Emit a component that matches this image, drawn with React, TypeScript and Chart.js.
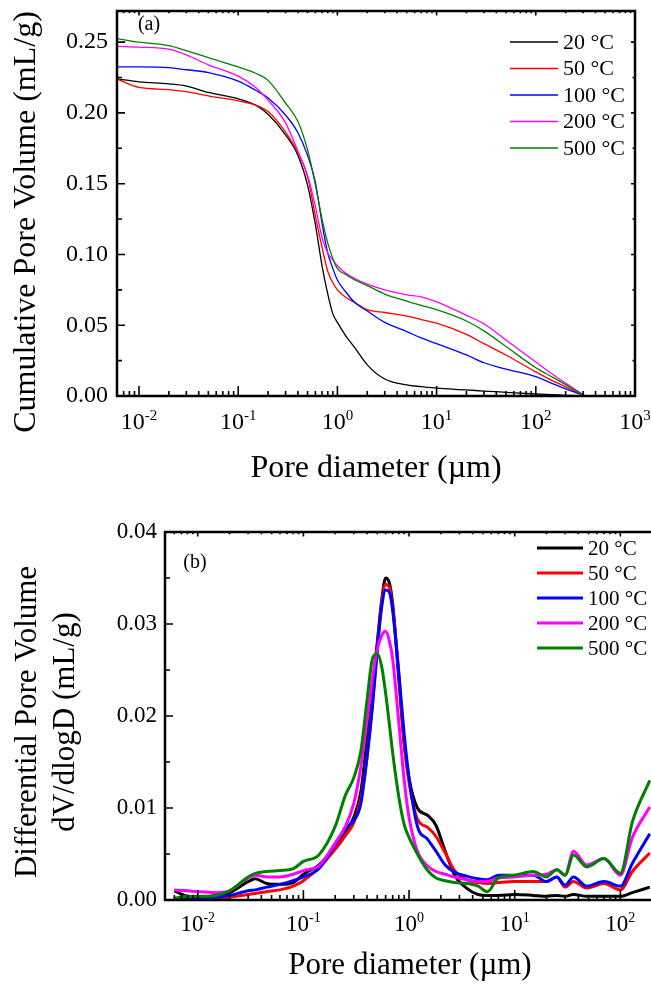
import React, { useEffect, useRef } from 'react';
import { Chart, registerables } from 'chart.js';

Chart.register(...registerables);

const FONT_FAMILY = "'Liberation Serif', 'Times New Roman', Times, serif";

const seriesLabels = ['20 °C', '50 °C', '100 °C', '200 °C', '500 °C'];
const seriesColors = ['#000000', '#ff0000', '#0000ff', '#ff00ff', '#008000'];

// ---------- (a) Cumulative pore volume (mL/g) vs pore diameter (µm)
const diameterA = [0.006, 0.01, 0.02, 0.03, 0.05, 0.1, 0.15, 0.2, 0.3, 0.4, 0.5, 0.6, 0.7, 0.8, 0.9, 1.0, 1.2, 1.5, 2, 3, 5, 7, 10, 20, 30, 50, 100, 150, 200, 316];
const cum20 = [0.224, 0.222, 0.2205, 0.219, 0.2145, 0.210, 0.2055, 0.199, 0.1845, 0.170, 0.149, 0.121, 0.092, 0.072, 0.058, 0.052, 0.043, 0.034, 0.022, 0.012, 0.0078, 0.0066, 0.0055, 0.0043, 0.0035, 0.0026, 0.0014, 0.0009, 0.0005, 0];
const cum50 = [0.224, 0.218, 0.2165, 0.215, 0.212, 0.2085, 0.2055, 0.201, 0.1865, 0.172, 0.155, 0.127, 0.105, 0.088, 0.080, 0.075, 0.070, 0.066, 0.061, 0.059, 0.0565, 0.054, 0.0515, 0.0435, 0.037, 0.029, 0.017, 0.0105, 0.0065, 0];
const cum100 = [0.2325, 0.2325, 0.232, 0.2305, 0.2285, 0.2225, 0.216, 0.2105, 0.1985, 0.186, 0.170, 0.151, 0.122, 0.101, 0.090, 0.082, 0.074, 0.066, 0.060, 0.052, 0.0455, 0.041, 0.037, 0.029, 0.0235, 0.019, 0.0137, 0.0085, 0.005, 0];
const cum200 = [0.247, 0.2465, 0.245, 0.241, 0.234, 0.226, 0.218, 0.209, 0.193, 0.173, 0.156, 0.134, 0.112, 0.101, 0.096, 0.092, 0.087, 0.083, 0.079, 0.075, 0.0715, 0.070, 0.0665, 0.057, 0.051, 0.0395, 0.024, 0.015, 0.009, 0];
const cum500 = [0.2525, 0.250, 0.2475, 0.244, 0.239, 0.2325, 0.228, 0.223, 0.207, 0.194, 0.174, 0.149, 0.125, 0.108, 0.097, 0.090, 0.086, 0.082, 0.078, 0.072, 0.067, 0.064, 0.061, 0.053, 0.046, 0.035, 0.020, 0.013, 0.008, 0];
const yTicksA = [0, 0.05, 0.1, 0.15, 0.2, 0.25];

// ---------- (b) Differential pore volume dV/dlogD (mL/g) vs pore diameter (µm)
const diameterB = [0.006, 0.008, 0.01, 0.015, 0.02, 0.03, 0.035, 0.045, 0.06, 0.08, 0.1, 0.14, 0.2, 0.25, 0.3, 0.35, 0.4, 0.45, 0.5, 0.55, 0.6, 0.65, 0.7, 0.8, 0.9, 1.0, 1.2, 1.5, 1.8, 2.2, 2.7, 3.5, 4.5, 5.5, 7, 10, 15, 20, 25, 30, 36, 48, 70, 100, 130, 190];
const diff20 = [0.0010, 0.0004, 0.0003, 0.0005, 0.0008, 0.0020, 0.0023, 0.0018, 0.0017, 0.0019, 0.0028, 0.0038, 0.0058, 0.0075, 0.0090, 0.0118, 0.0175, 0.0228, 0.0280, 0.0325, 0.0350, 0.0345, 0.0322, 0.0240, 0.0170, 0.0132, 0.0100, 0.0092, 0.0081, 0.0053, 0.0027, 0.0013, 0.0006, 0.0005, 0.0005, 0.0006, 0.0005, 0.0004, 0.0005, 0.0004, 0.0006, 0.0004, 0.0004, 0.0004, 0.0008, 0.0014];
const diff50 = [0.0000, 0.0000, 0.0000, 0.0001, 0.0003, 0.0006, 0.0007, 0.0009, 0.0011, 0.0015, 0.0021, 0.0035, 0.0055, 0.0070, 0.0084, 0.0110, 0.0155, 0.0212, 0.0272, 0.0322, 0.0343, 0.0340, 0.0318, 0.0245, 0.0170, 0.0128, 0.0088, 0.0079, 0.0069, 0.0051, 0.0032, 0.0022, 0.0019, 0.0018, 0.0019, 0.0020, 0.0020, 0.0020, 0.0025, 0.0014, 0.0020, 0.0013, 0.0018, 0.0011, 0.0031, 0.0051];
const diff100 = [0.0001, 0.0001, 0.0002, 0.0003, 0.0005, 0.0010, 0.0011, 0.0014, 0.0017, 0.0021, 0.0025, 0.0034, 0.0060, 0.0078, 0.0086, 0.0105, 0.0155, 0.0210, 0.0272, 0.0318, 0.0337, 0.0335, 0.0315, 0.0247, 0.0180, 0.0133, 0.0080, 0.0066, 0.0053, 0.0038, 0.0030, 0.0026, 0.0023, 0.0022, 0.0027, 0.0027, 0.0027, 0.0020, 0.0025, 0.0016, 0.0025, 0.0015, 0.0020, 0.0015, 0.0040, 0.0072];
const diff200 = [0.0011, 0.0010, 0.0009, 0.0008, 0.0010, 0.0024, 0.0027, 0.0025, 0.0025, 0.0028, 0.0032, 0.0037, 0.0062, 0.0080, 0.0105, 0.0145, 0.0195, 0.0240, 0.0272, 0.0287, 0.0292, 0.0282, 0.0262, 0.0193, 0.0130, 0.0090, 0.0053, 0.0037, 0.0031, 0.0028, 0.0025, 0.0022, 0.0020, 0.0020, 0.0024, 0.0025, 0.0027, 0.0028, 0.0033, 0.0027, 0.0053, 0.0038, 0.0045, 0.0027, 0.0068, 0.0101];
const diff500 = [0.0002, 0.0004, 0.0004, 0.0005, 0.0010, 0.0025, 0.0029, 0.0031, 0.0032, 0.0034, 0.0042, 0.0049, 0.0080, 0.0114, 0.0133, 0.0162, 0.0217, 0.0262, 0.0268, 0.0254, 0.0225, 0.0192, 0.0160, 0.0112, 0.0082, 0.0068, 0.0050, 0.0032, 0.0024, 0.0021, 0.0019, 0.0018, 0.0015, 0.0009, 0.0024, 0.0027, 0.0031, 0.0025, 0.0033, 0.0027, 0.0049, 0.0036, 0.0045, 0.0029, 0.0085, 0.0130];
const yTicksB = [0, 0.01, 0.02, 0.03, 0.04];

type Deco = {
  yStepMinor: number;
  yStepMajor: number;
  axisWidth: number;
  xMajLen: number;
  xMinLen: number;
  yMajLen: number;
  yMinLen: number;
  topTicks: boolean;
  rightAxis: boolean;
  xLabelBaseline: number;
  xLabelSize: number;
  xSupSize: number;
  supRise: number;
  xTitle: string;
  xTitleX: number;
  xTitleBaseline: number;
  xTitleSize: number;
  yTitleLines: string[];
  yTitleBaselines: number[];
  yTitleY: number;
  yTitleSize: number;
  legendX0: number;
  legendX1: number;
  legendTextX: number;
  legendY0: number;
  legendDy: number;
  legendSize: number;
  legendLineWidth: number;
  panel: string;
  panelX: number;
  panelY: number;
  panelSize: number;
};

function decoPlugin(d: Deco) {
  return {
    id: 'deco',
    afterDraw(chart: any) {
      const ctx: CanvasRenderingContext2D = chart.ctx;
      const ca = chart.chartArea;
      const xs = chart.scales.x;
      const ys = chart.scales.y;
      ctx.save();
      ctx.strokeStyle = '#000';
      ctx.fillStyle = '#000';
      ctx.lineCap = 'butt';

      // frame
      ctx.lineWidth = d.axisWidth;
      ctx.beginPath();
      if (d.rightAxis) {
        ctx.rect(ca.left, ca.top, ca.right - ca.left, ca.bottom - ca.top);
      } else {
        ctx.moveTo(ca.right + 3, ca.top);
        ctx.lineTo(ca.left, ca.top);
        ctx.lineTo(ca.left, ca.bottom);
        ctx.lineTo(ca.right + 3, ca.bottom);
      }
      ctx.stroke();

      // x ticks (log)
      ctx.lineWidth = 1.6;
      const lo = Math.floor(Math.log10(xs.min));
      const hi = Math.ceil(Math.log10(xs.max));
      ctx.beginPath();
      for (let n = lo; n <= hi; n++) {
        for (let k = 1; k <= 9; k++) {
          const v = k * Math.pow(10, n);
          if (v < xs.min * 0.999 || v > xs.max * 1.001) continue;
          const px = xs.getPixelForValue(v);
          if (px <= ca.left + 1 || px >= ca.right - 1) continue;
          const len = k === 1 ? d.xMajLen : d.xMinLen;
          ctx.moveTo(px, ca.bottom);
          ctx.lineTo(px, ca.bottom - len);
          if (d.topTicks) {
            ctx.moveTo(px, ca.top);
            ctx.lineTo(px, ca.top + len * 0.45);
          }
        }
      }
      ctx.stroke();

      // y ticks
      ctx.beginPath();
      for (let i = 1; ; i++) {
        const v = i * d.yStepMinor;
        if (v > ys.max + 1e-9) break;
        const py = ys.getPixelForValue(v);
        if (py <= ca.top + 1) continue;
        const r = v / d.yStepMajor;
        const major = Math.abs(r - Math.round(r)) < 1e-6;
        const len = major ? d.yMajLen : d.yMinLen;
        ctx.moveTo(ca.left, py);
        ctx.lineTo(ca.left + len, py);
        if (d.rightAxis) {
          ctx.moveTo(ca.right, py);
          ctx.lineTo(ca.right - len * 0.5, py);
        }
      }
      ctx.stroke();

      // x tick labels 10^n
      ctx.textBaseline = 'alphabetic';
      ctx.textAlign = 'left';
      for (let n = lo; n <= hi; n++) {
        const v = Math.pow(10, n);
        if (v < xs.min * 0.999 || v > xs.max * 1.001) continue;
        const px = xs.getPixelForValue(v);
        const exp = String(n);
        ctx.font = `${d.xLabelSize}px ${FONT_FAMILY}`;
        const w1 = ctx.measureText('10').width;
        ctx.font = `${d.xSupSize}px ${FONT_FAMILY}`;
        const w2 = ctx.measureText(exp).width;
        const x0 = px - (w1 + w2) / 2;
        ctx.font = `${d.xLabelSize}px ${FONT_FAMILY}`;
        ctx.fillText('10', x0, d.xLabelBaseline);
        ctx.font = `${d.xSupSize}px ${FONT_FAMILY}`;
        ctx.fillText(exp, x0 + w1, d.xLabelBaseline - d.supRise);
      }

      // x title
      ctx.font = `${d.xTitleSize}px ${FONT_FAMILY}`;
      ctx.textAlign = 'center';
      ctx.fillText(d.xTitle, d.xTitleX, d.xTitleBaseline);

      // y title (rotated)
      ctx.font = `${d.yTitleSize}px ${FONT_FAMILY}`;
      d.yTitleLines.forEach((line, i) => {
        ctx.save();
        ctx.translate(d.yTitleBaselines[i], d.yTitleY);
        ctx.rotate(-Math.PI / 2);
        ctx.textAlign = 'center';
        ctx.textBaseline = 'alphabetic';
        ctx.fillText(line, 0, 0);
        ctx.restore();
      });

      // legend
      ctx.font = `${d.legendSize}px ${FONT_FAMILY}`;
      ctx.textAlign = 'left';
      ctx.textBaseline = 'middle';
      chart.data.datasets.forEach((ds: any, i: number) => {
        const y = d.legendY0 + i * d.legendDy;
        ctx.strokeStyle = ds.borderColor;
        ctx.lineWidth = d.legendLineWidth;
        ctx.beginPath();
        ctx.moveTo(d.legendX0, y);
        ctx.lineTo(d.legendX1, y);
        ctx.stroke();
        ctx.fillStyle = '#000';
        ctx.fillText(ds.label, d.legendTextX, y + 1);
      });

      // panel label
      ctx.font = `${d.panelSize}px ${FONT_FAMILY}`;
      ctx.textAlign = 'center';
      ctx.textBaseline = 'middle';
      ctx.fillText(d.panel, d.panelX, d.panelY);
      ctx.restore();
    },
  };
}

function buildChart(
  canvas: HTMLCanvasElement,
  xs: number[],
  series: number[][],
  lineWidth: number,
  xMin: number,
  xMax: number,
  yMax: number,
  yTicks: number[],
  yFont: number,
  yPad: number,
  yWidth: number,
  xHeight: number,
  padTop: number,
  padRight: number,
  deco: Deco
) {
  return new Chart(canvas, {
    type: 'line',
    data: {
      datasets: seriesLabels.map((label, i) => ({
        label,
        data: xs.map((x, j) => ({ x, y: series[i][j] })),
        borderColor: seriesColors[i],
        backgroundColor: seriesColors[i],
        borderWidth: lineWidth,
        pointRadius: 0,
        cubicInterpolationMode: 'monotone',
        fill: false,
        order: 4 - i,
      })),
    },
    options: {
      responsive: false,
      animation: false,
      devicePixelRatio: 1,
      layout: { padding: { top: padTop, right: padRight, left: 0, bottom: 0 } },
      plugins: { legend: { display: false }, tooltip: { enabled: false } },
      scales: {
        x: {
          type: 'logarithmic',
          min: xMin,
          max: xMax,
          grid: { display: false, drawTicks: false },
          border: { display: false },
          ticks: { display: false },
          afterFit: (s: any) => {
            s.height = xHeight;
            s.paddingLeft = 0;
            s.paddingRight = 0;
            s.paddingTop = 0;
            s.paddingBottom = 0;
          },
        },
        y: {
          type: 'linear',
          min: 0,
          max: yMax,
          grid: { display: false, drawTicks: false },
          border: { display: false },
          ticks: {
            color: '#000',
            padding: yPad,
            font: { family: FONT_FAMILY, size: yFont },
            callback: (v: any) => Number(v).toFixed(2),
          },
          afterBuildTicks: (s: any) => {
            s.ticks = yTicks.map((value) => ({ value }));
          },
          afterFit: (s: any) => {
            s.width = yWidth;
            s.paddingTop = 0;
            s.paddingBottom = 0;
            s.paddingLeft = 0;
            s.paddingRight = 0;
          },
        },
      },
    } as any,
    plugins: [decoPlugin(deco)],
  } as any);
}

const TOP_H = 500;
const BOT_TOP = 470;
const BOT_H = 515;

export default function App() {
  const refA = useRef<HTMLCanvasElement>(null);
  const refB = useRef<HTMLCanvasElement>(null);

  useEffect(() => {
    const decoA: Deco = {
      yStepMinor: 0.025,
      yStepMajor: 0.05,
      axisWidth: 2.5,
      xMajLen: 10,
      xMinLen: 5,
      yMajLen: 8,
      yMinLen: 5,
      topTicks: true,
      rightAxis: true,
      xLabelBaseline: 429,
      xLabelSize: 24,
      xSupSize: 15,
      supRise: 9,
      xTitle: 'Pore diameter (µm)',
      xTitleX: 376,
      xTitleBaseline: 477,
      xTitleSize: 32,
      yTitleLines: ['Cumulative Pore Volume (mL/g)'],
      yTitleBaselines: [35],
      yTitleY: 222,
      yTitleSize: 32,
      legendX0: 510,
      legendX1: 558,
      legendTextX: 563,
      legendY0: 42,
      legendDy: 26.5,
      legendSize: 22,
      legendLineWidth: 1.3,
      panel: '(a)',
      panelX: 149,
      panelY: 25,
      panelSize: 20,
    };
    const decoB: Deco = {
      yStepMinor: 0.005,
      yStepMajor: 0.01,
      axisWidth: 2.5,
      xMajLen: 10,
      xMinLen: 5,
      yMajLen: 8,
      yMinLen: 5,
      topTicks: true,
      rightAxis: false,
      xLabelBaseline: 931 - BOT_TOP,
      xLabelSize: 23,
      xSupSize: 14,
      supRise: 9,
      xTitle: 'Pore diameter (µm)',
      xTitleX: 410,
      xTitleBaseline: 974 - BOT_TOP,
      xTitleSize: 31,
      yTitleLines: ['Differential Pore Volume', 'dV/dlogD (mL/g)'],
      yTitleBaselines: [36, 74],
      yTitleY: 722 - BOT_TOP,
      yTitleSize: 31,
      legendX0: 537,
      legendX1: 583,
      legendTextX: 588,
      legendY0: 548 - BOT_TOP,
      legendDy: 25,
      legendSize: 21,
      legendLineWidth: 3,
      panel: '(b)',
      panelX: 195,
      panelY: 563 - BOT_TOP,
      panelSize: 20,
    };

    const chartA = buildChart(
      refA.current as HTMLCanvasElement,
      diameterA,
      [cum20, cum50, cum100, cum200, cum500],
      1.3,
      0.006,
      1000,
      0.272,
      yTicksA,
      24,
      9,
      117,
      TOP_H - 396,
      11,
      16,
      decoA
    );
    const chartB = buildChart(
      refB.current as HTMLCanvasElement,
      diameterB,
      [diff20, diff50, diff100, diff200, diff500],
      3,
      0.0049,
      195,
      0.04,
      yTicksB,
      23,
      8,
      165,
      BOT_H - (900 - BOT_TOP),
      532 - BOT_TOP,
      0,
      decoB
    );
    return () => {
      chartA.destroy();
      chartB.destroy();
    };
  }, []);

  return (
    <div
      style={{
        position: 'fixed',
        left: 0,
        top: 0,
        width: 651,
        height: 985,
        background: '#ffffff',
        overflow: 'hidden',
      }}
    >
      <canvas
        ref={refA}
        width={651}
        height={TOP_H}
        style={{ position: 'absolute', left: 0, top: 0, width: 651, height: TOP_H }}
      />
      <canvas
        ref={refB}
        width={651}
        height={BOT_H}
        style={{ position: 'absolute', left: 0, top: BOT_TOP, width: 651, height: BOT_H }}
      />
    </div>
  );
}
